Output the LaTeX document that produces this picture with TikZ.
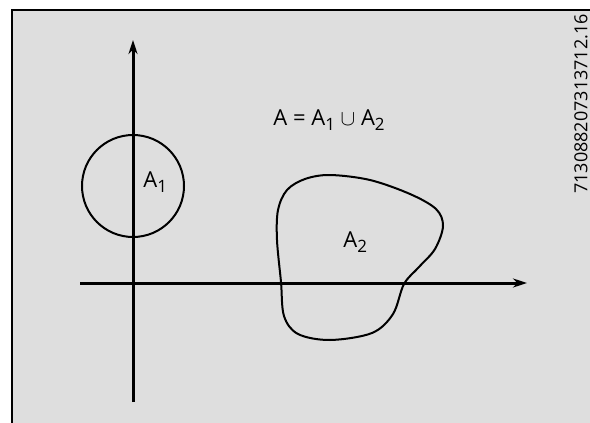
\documentclass[tikz,border=0pt]{standalone}
\usepackage{fontspec}
\setmainfont{Open Sans}
\usetikzlibrary{arrows.meta}
\newcommand{\lowsub}[1]{\raisebox{-0.45ex}{\fontsize{8.5}{9}\selectfont #1}}

\begin{document}
\begin{tikzpicture}[
  x=0.5pt, y=-0.5pt,
  axis/.style={line width=1.5pt, -{Stealth[length=7pt,width=4.5pt]}},
  setline/.style={draw, line width=1pt},
  lbl/.style={font=\fontsize{11}{12}\selectfont, inner sep=0pt, anchor=base west},
  stamp/.style={font=\fontsize{9}{10}\selectfont, inner sep=0pt, rotate=90},
]
\useasboundingbox (0,0) rectangle (590,423);
\fill[black!13] (12,10) rectangle (590,423);
\draw[line width=1pt] (12,423) -- (12,10) -- (590,10);

% axes
\coordinate (xstart) at (80,283);
\coordinate (xend)   at (527,283);
\coordinate (ystart) at (133,402);
\coordinate (yend)   at (133,40);
\draw[axis] (xstart) -- (xend);
\draw[axis] (ystart) -- (yend);

% sets
\node[setline, circle, minimum size=51pt, inner sep=0pt] (setA1) at (133,186) {};
\draw[setline] plot[smooth cycle, tension=0.55] coordinates {
  (278,210) (287,190) (305,179) (330,175) (370,180) (410,194)
  (436,209) (443,226) (435,249) (419,267) (404,284) (393,314)
  (372,333) (330,340) (298,334) (284,316) (281,282) (277,240)};

\node[lbl] (labA1) at (143,187) {A\lowsub{1}};
\node[lbl] (labA2) at (343,247) {A\lowsub{2}};
\node[lbl] (union) at (273,125) {A = A\lowsub{1} $\cup$ A\lowsub{2}};

\node[stamp] (code) at (581,104) {713088207313712.16};

\end{tikzpicture}
\end{document}
